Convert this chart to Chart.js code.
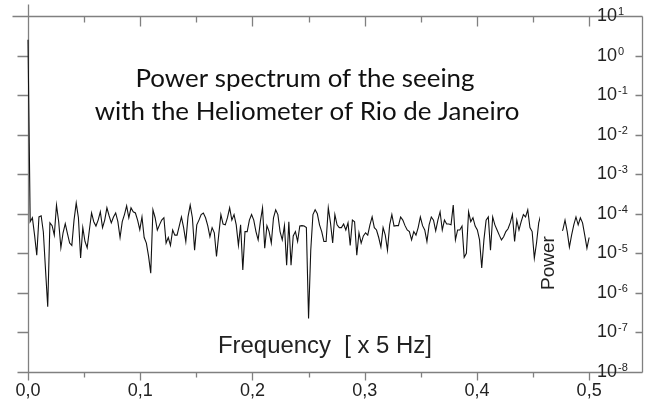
<!DOCTYPE html>
<html>
<head>
<meta charset="utf-8">
<script src="https://cdn.jsdelivr.net/npm/chart.js@4.4.1/dist/chart.umd.min.js"></script>
<style>
  html, body { margin: 0; padding: 0; background: #fff; }
  #wrap { width: 648px; height: 411px; }
</style>
</head>
<body>
<div id="wrap"><canvas id="grafico"></canvas></div>
<script>
// espectro de potencia: una muestra cada 0.5/256 (unidades de 5 Hz)
const freqStep = 0.5 / 256;
// log10 de la potencia
const log10Power = [
  0.4, -4.2, -4.1, -4.54, -5.05, -4.08, -4.05, -4.46, -5.42, -6.35,
  -4.23, -4.3, -4.54, -3.78, -4.2, -4.86, -4.48, -4.25, -4.5, -4.74,
  -4.8, -4.16, -3.73, -4.1, -5.12, -4.35, -4.7, -4.86, -4.41, -3.98,
  -4.2, -4.31, -4.16, -3.95, -4.35, -4.16, -3.85, -4.05, -4.23, -4.08,
  -3.98, -4.2, -4.6, -4.2, -4.02, -3.8, -4.1, -3.85, -3.95, -3.98,
  -4.16, -4.4, -4.08, -4.6, -4.74, -5.07, -5.5, -3.9, -4.1, -4.41,
  -4.28, -4.16, -4.1, -4.74, -4.6, -4.8, -4.41, -4.54, -4.54, -4.31,
  -4.08, -4.35, -4.7, -4.08, -3.78, -4.1, -4.92, -4.28, -4.16, -4.02,
  -3.98, -4.1, -4.3, -4.58, -4.35, -4.48, -5.08, -4.54, -4.02, -4.26,
  -4.28, -4.1, -3.85, -4.16, -4.02, -4.28, -4.8, -4.28, -5.42, -4.45,
  -4.45, -4.16, -4.02, -4.16, -4.45, -4.66, -4.2, -3.85, -4.87, -4.3,
  -4.45, -4.74, -4.1, -3.9, -4.02, -4.45, -4.66, -4.3, -5.3, -4.2,
  -5.3, -4.56, -4.45, -4.7, -4.31, -4.3, -4.31, -4.35, -6.65, -4.92,
  -4.02, -3.9, -4.0, -4.28, -4.45, -4.7, -4.7, -3.85, -4.23, -4.74,
  -4.02, -4.28, -4.35, -4.35, -4.26, -4.41, -4.23, -4.8, -4.16, -4.2,
  -5.05, -4.48, -4.74, -4.56, -4.48, -4.54, -4.28, -4.08, -4.35, -4.41,
  -4.6, -4.84, -4.35, -4.54, -4.92, -4.28, -4.02, -4.31, -4.3, -4.3,
  -4.08, -4.16, -4.3, -4.41, -4.45, -4.66, -4.45, -4.54, -4.35, -4.08,
  -4.3, -4.41, -4.7, -4.28, -4.08, -4.16, -4.43, -4.16, -3.95, -4.41,
  -4.16, -4.26, -4.26, -4.28, -3.78, -4.66, -4.41, -4.41, -4.31, -5.1,
  -5.0, -3.95, -4.2, -4.1, -4.31, -4.41, -4.66, -5.37, -4.66, -4.16,
  -4.08, -4.92, -4.08, -4.28, -4.41, -4.54, -4.66, -4.58, -4.45, -4.38,
  -4.23, -4.02, -4.7, -4.16, -4.41, -4.2, -4.02, -4.08, -3.9, -4.35,
  -4.45, -5.12, -4.74, -4.23, -4.02, -4.3, -4.5, -4.2, -4.4, -4.1,
  -4.6, -4.3, -4.5, -4.45, -4.41, -4.16, -4.45, -4.84, -4.54, -4.28,
  -4.08, -4.28, -4.1, -4.23, -4.54, -4.87, -4.6
];
const xTicks = [0, 0.1, 0.2, 0.3, 0.4, 0.5];
const xMinorTicks = [0.05, 0.15, 0.25, 0.35, 0.45];
const yExponents = [1, 0, -1, -2, -3, -4, -5, -6, -7, -8];
const titleLines = ["Power spectrum of the seeing", "with the Heliometer of Rio de Janeiro"];
const xLabelText = "Frequency  [ x 5 Hz]";
const yLabelText = "Power";

const puntos = log10Power.map((v, i) => ({ x: i * freqStep, y: Math.pow(10, v) }));

const axisColor = "#808080";

function fitFont(ctx, text, family, width) {
  ctx.font = "100px " + family;
  return 100 * width / ctx.measureText(text).width;
}

const marco = {
  id: "marco",
  beforeDatasetsDraw(chart) {
    const { ctx, chartArea: a, scales } = chart;
    const L = Math.round(a.left) + 0.5, R = Math.round(a.right) - 0.5;
    const T = Math.round(a.top) + 0.5, B = Math.round(a.bottom) + 0.5;
    ctx.save();
    ctx.strokeStyle = axisColor;
    ctx.lineWidth = 1.3;
    ctx.beginPath();
    ctx.moveTo(L, T - 12); ctx.lineTo(L, B);
    ctx.moveTo(L - 16, T); ctx.lineTo(R, T);
    ctx.moveTo(L - 11, B); ctx.lineTo(R, B);
    ctx.moveTo(R, T); ctx.lineTo(R, B);
    yExponents.forEach((e) => {
      const y = Math.round(scales.y.getPixelForValue(Math.pow(10, e))) + 0.5;
      ctx.moveTo(L - 11, y); ctx.lineTo(L, y);
      ctx.moveTo(R - 7, y); ctx.lineTo(R, y);
    });
    xTicks.forEach((v) => {
      const x = Math.round(scales.x.getPixelForValue(v)) + 0.5;
      ctx.moveTo(x, B); ctx.lineTo(x, B + 8);
      ctx.moveTo(x, T); ctx.lineTo(x, T + 10);
    });
    xMinorTicks.forEach((v) => {
      const x = Math.round(scales.x.getPixelForValue(v)) + 0.5;
      ctx.moveTo(x, B); ctx.lineTo(x, B + 5);
      ctx.moveTo(x, T); ctx.lineTo(x, T + 6);
    });
    ctx.stroke();
    ctx.restore();
  },
  afterDatasetsDraw(chart) {
    const { ctx } = chart;
    // caja blanca de la etiqueta "Power" que tapa la curva
    ctx.save();
    ctx.fillStyle = "#fff";
    ctx.fillRect(540, 200, 22, 92);
    ctx.restore();
  },
  afterDraw(chart) {
    const { ctx, scales } = chart;
    ctx.save();
    // etiquetas del eje y con exponente
    ctx.fillStyle = "#222";
    yExponents.forEach((e) => {
      const y = scales.y.getPixelForValue(Math.pow(10, e));
      ctx.font = "18px 'Liberation Sans'";
      ctx.textAlign = "left";
      ctx.textBaseline = "middle";
      ctx.fillText("10", 597, y);
      const w = ctx.measureText("10").width;
      ctx.font = "11px 'Liberation Sans'";
      ctx.textBaseline = "alphabetic";
      ctx.fillText(String(e), 597 + w + 1, y - 1);
    });

    // titulo dentro del grafico
    const size = fitFont(ctx, titleLines[1], "Lato", 425);
    ctx.font = size + "px Lato";
    ctx.fillStyle = "#111";
    ctx.textAlign = "center";
    ctx.textBaseline = "alphabetic";
    ctx.fillText(titleLines[0], 305, 87);
    ctx.fillText(titleLines[1], 307, 120);

    // titulo eje x
    const fs = fitFont(ctx, xLabelText, "'Liberation Sans'", 214);
    ctx.font = fs + "px 'Liberation Sans'";
    ctx.fillStyle = "#222";
    ctx.textAlign = "left";
    ctx.fillText(xLabelText, 218, 353);

    // titulo eje y
    ctx.translate(549, 263);
    ctx.rotate(-Math.PI / 2);
    ctx.font = "19px 'Liberation Sans'";
    ctx.textAlign = "center";
    ctx.textBaseline = "middle";
    ctx.fillText(yLabelText, 0, 0);
    ctx.restore();
  }
};

const ctx = document.getElementById("grafico").getContext("2d");
new Chart(ctx, {
  type: "line",
  data: {
    datasets: [
      {
        label: "Power",
        data: puntos,
        borderColor: "#111",
        borderWidth: 1.1,
        pointRadius: 0,
        tension: 0,
        fill: false,
        clip: 4,
      },
    ],
  },
  options: {
    responsive: true,
    maintainAspectRatio: false,
    animation: false,
    layout: { padding: { left: 28, right: 5, top: 16, bottom: 0 } },
    plugins: { legend: { display: false }, tooltip: { enabled: false } },
    scales: {
      x: {
        type: "linear",
        min: 0,
        max: 0.548,
        grid: { display: false },
        border: { display: false },
        ticks: {
          stepSize: 0.1,
          includeBounds: false,
          autoSkip: false,
          maxRotation: 0,
          padding: 0,
          color: "#222",
          font: { family: "'Liberation Sans'", size: 18 },
          callback: (v) => v.toFixed(1).replace(".", ","),
        },
        afterFit: (s) => { s.height = 39; },
      },
      y: {
        type: "logarithmic",
        min: 1e-8,
        max: 10,
        display: false,
      },
    },
  },
  plugins: [marco],
});
</script>
</body>
</html>
